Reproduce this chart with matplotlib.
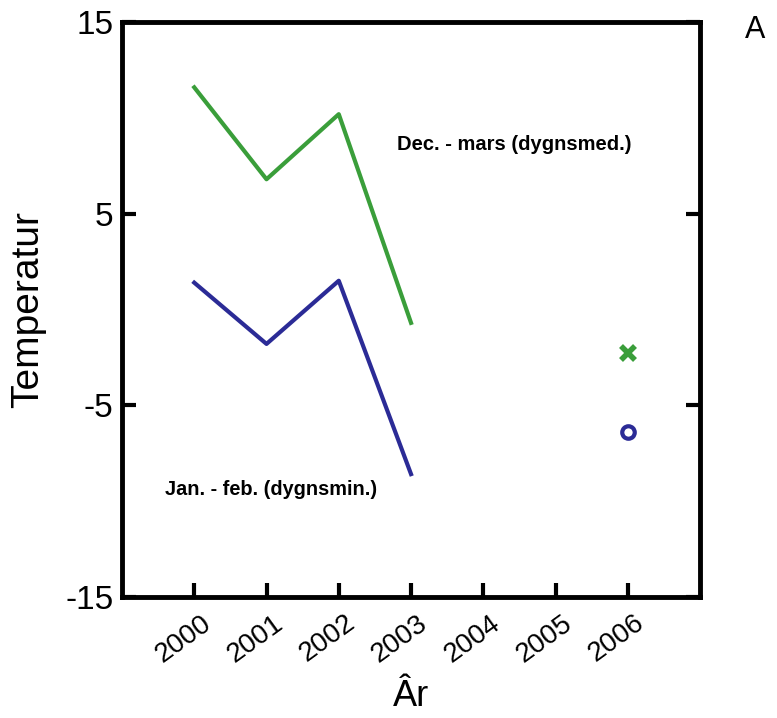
import matplotlib
matplotlib.use('Agg')
import matplotlib.pyplot as plt
import matplotlib.transforms as mtransforms

plt.rcParams['font.family'] = ['Liberation Sans', 'DejaVu Sans']

years = [2000, 2001, 2002, 2003]
dec_mars = [11.6, 6.8, 10.2, -0.7]
jan_feb = [1.4, -1.8, 1.5, -8.6]
year_2006 = 2006
dec_mars_2006 = -2.3
jan_feb_2006 = -6.4
xticks = [2000, 2001, 2002, 2003, 2004, 2005, 2006]
yticks = [-15, -5, 5, 15]

green = '#3a9e3a'
blue = '#2b2b96'

fig = plt.figure(figsize=(7.77, 7.18), dpi=100)
ax = fig.add_axes([0.157, 0.169, 0.744, 0.800])

ax.plot(years, dec_mars, color=green, lw=3)
ax.plot(years, jan_feb, color=blue, lw=3)
ax.plot([year_2006], [dec_mars_2006], 'x', color=green, ms=10, mew=4)
ax.plot([year_2006], [jan_feb_2006], 'o', color=blue, ms=9, mew=3, mfc='none')

ax.text(2002.8, 8.6, 'Dec. - mars (dygnsmed.)', fontsize=14.5, fontweight='bold', va='center')
ax.text(1999.6, -9.4, 'Jan. - feb. (dygnsmin.)', fontsize=14.3, fontweight='bold', va='center')

ax.set_xlim(1999, 2007)
ax.set_ylim(-15, 15)
ax.tick_params(direction='in', length=10, width=3, right=True, pad=6)
ax.set_xticks(xticks)
ax.set_xticklabels([str(x) for x in xticks], rotation=36, fontsize=20, ha='center')
ax.set_yticks(yticks)
ax.set_yticklabels([str(y) for y in yticks], fontsize=24)
for s in ax.spines.values():
    s.set_linewidth(3.5)

# nudge the rotated year labels a little left/down like the original
shift = mtransforms.ScaledTranslation(-11 / 100, -5 / 100, fig.dpi_scale_trans)
for lab in ax.get_xticklabels():
    lab.set_transform(lab.get_transform() + shift)

ax.set_ylabel('Temperatur', fontsize=28, labelpad=14)
ax.set_xlabel('Âr', fontsize=26, labelpad=8)
fig.text(0.972, 0.958, 'A', fontsize=22, ha='center', va='center')

fig.savefig('out.png', dpi=100)
